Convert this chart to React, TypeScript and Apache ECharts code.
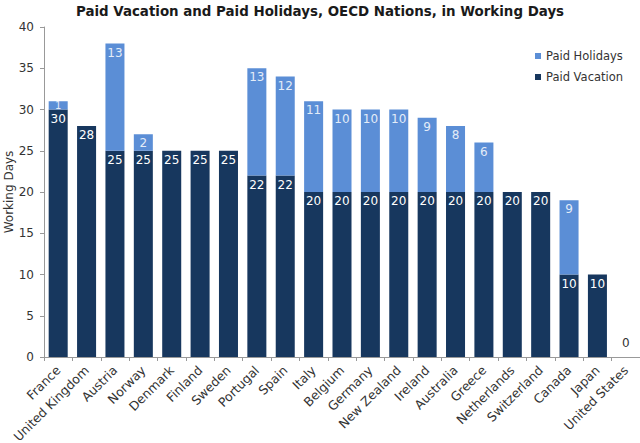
import React, { useRef, useEffect } from 'react';
import * as echarts from 'echarts';

const countries = [
  'France', 'United Kingdom', 'Austria', 'Norway', 'Denmark', 'Finland', 'Sweden',
  'Portugal', 'Spain', 'Italy', 'Belgium', 'Germany', 'New Zealand', 'Ireland',
  'Australia', 'Greece', 'Netherlands', 'Switzerland', 'Canada', 'Japan', 'United States',
];
const paidVacation = [30, 28, 25, 25, 25, 25, 25, 22, 22, 20, 20, 20, 20, 20, 20, 20, 20, 20, 10, 10, 0];
const paidHolidays = [1, 0, 13, 2, 0, 0, 0, 13, 12, 11, 10, 10, 10, 9, 8, 6, 0, 0, 9, 0, 0];

const FONT = '"DejaVu Sans", Verdana, sans-serif';

const App: React.FC = () => {
  const chartRef = useRef<HTMLDivElement>(null);

  useEffect(() => {
    if (!chartRef.current) return;
    const chart = echarts.init(chartRef.current, undefined, { renderer: 'svg' });

    // zero vacation sits above the axis, tiny holiday segments get a centred small label
    const vacationData = paidVacation.map((v) =>
      v === 0
        ? { value: v, label: { position: 'top', color: '#333', distance: 8 } }
        : v
    );
    const holidayData = paidHolidays.map((v) =>
      v > 0 && v < 2
        ? { value: v, label: { position: 'inside', fontSize: 10, lineHeight: 10 } }
        : v
    );

    const option: echarts.EChartsOption = {
      animation: false,
      textStyle: { fontFamily: FONT },
      title: {
        text: 'Paid Vacation and Paid Holidays, OECD Nations, in Working Days',
        left: 'center',
        top: 0,
        textStyle: { fontSize: 13.4, fontWeight: 'bold', color: '#1a1a1a', fontFamily: FONT },
      },
      legend: {
        orient: 'vertical',
        left: 530,
        top: 45,
        itemWidth: 6,
        itemHeight: 6,
        itemGap: 9,
        icon: 'rect',
        data: ['Paid Holidays', 'Paid Vacation'],
        textStyle: { fontSize: 11.5, color: '#333', fontFamily: FONT },
      },
      // y-axis title placed by hand
      graphic: [
        {
          type: 'text',
          x: 9,
          y: 192,
          rotation: Math.PI / 2,
          style: {
            text: 'Working Days',
            fontSize: 12,
            fontFamily: FONT,
            fill: '#333',
            textAlign: 'center',
            textVerticalAlign: 'middle',
          },
        },
      ],
      grid: { left: 44, right: 0, top: 27, bottom: 86, outerBoundsMode: 'none' } as any,
      xAxis: {
        type: 'category',
        data: countries,
        axisLine: { lineStyle: { color: '#999' } },
        axisTick: { show: true, length: 4, lineStyle: { color: '#999' } },
        axisLabel: { rotate: 45, interval: 0, fontSize: 12.5, color: '#333', margin: 11 },
      },
      yAxis: {
        type: 'value',
        min: 0,
        max: 40,
        interval: 5,
        axisLine: { show: true, lineStyle: { color: '#999' } },
        axisTick: { show: true, length: 4, lineStyle: { color: '#999' } },
        splitLine: { show: false },
        axisLabel: { fontSize: 12, color: '#333', margin: 10 },
      },
      series: [
        {
          name: 'Paid Vacation',
          type: 'bar',
          stack: 'days',
          barCategoryGap: '33%',
          data: vacationData as any,
          itemStyle: { color: '#17375e' },
          label: {
            show: true,
            position: 'insideTop',
            distance: 3,
            color: '#ffffff',
            fontSize: 12,
          },
        },
        {
          name: 'Paid Holidays',
          type: 'bar',
          stack: 'days',
          data: holidayData as any,
          itemStyle: { color: '#5b8ed6' },
          label: {
            show: true,
            position: 'insideTop',
            distance: 3,
            color: '#e3ecf8',
            fontSize: 12,
            formatter: (p: any) => (p.value === 0 ? '' : String(p.value)),
          },
        },
      ],
    };

    chart.setOption(option);
    return () => chart.dispose();
  }, []);

  return (
    <div
      ref={chartRef}
      style={{ position: 'fixed', left: 0, top: 0, width: 640, height: 443, background: '#fff' }}
    />
  );
};

export default App;
